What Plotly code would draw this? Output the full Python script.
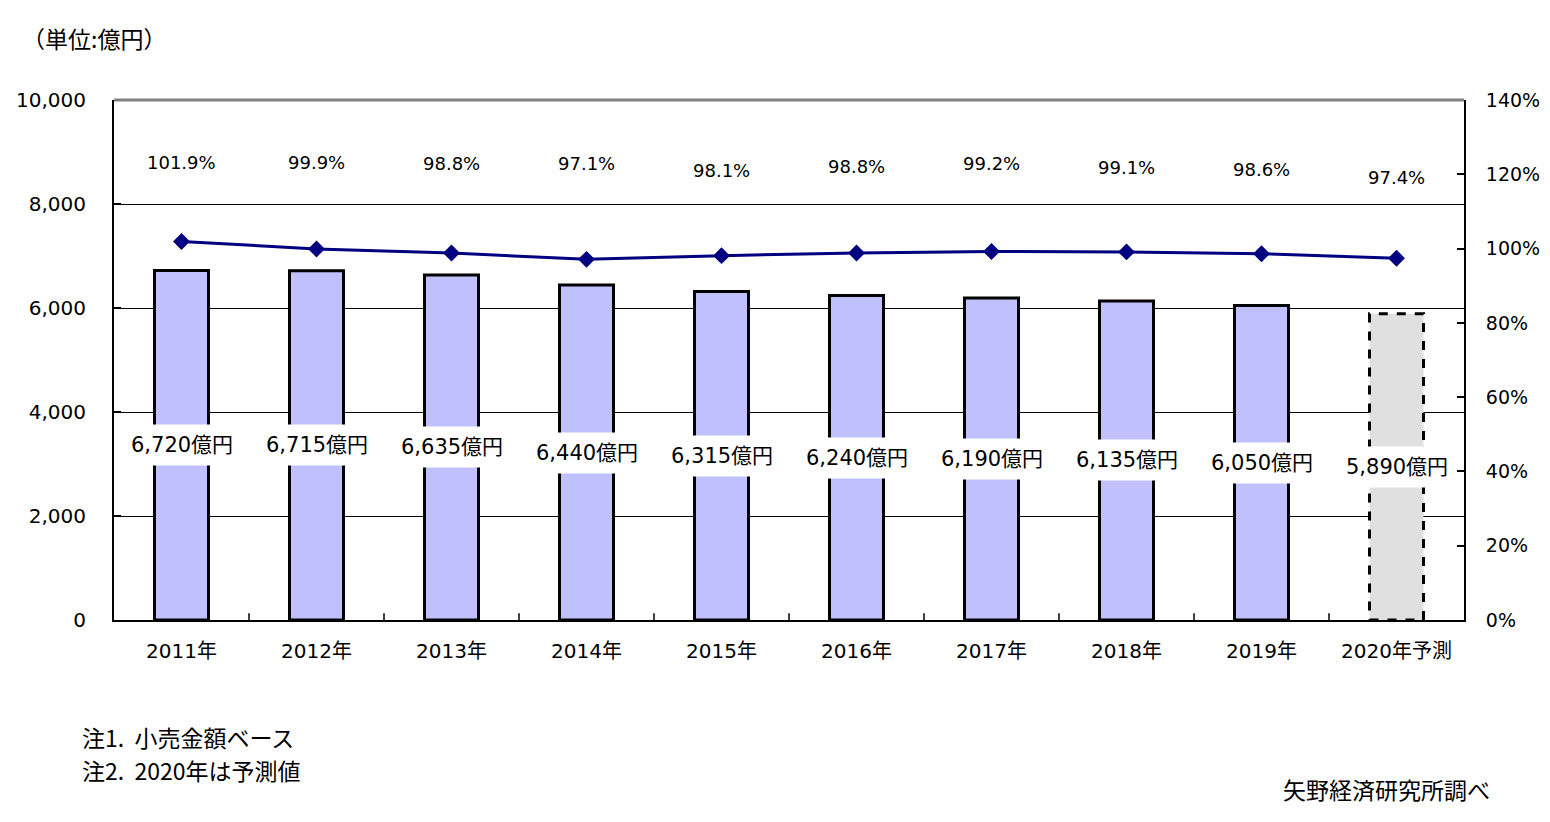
import plotly.graph_objects as go

years = ["2011年", "2012年", "2013年", "2014年", "2015年", "2016年", "2017年", "2018年", "2019年", "2020年予測"]
sales = [6720, 6715, 6635, 6440, 6315, 6240, 6190, 6135, 6050, 5890]
yoy = [101.9, 99.9, 98.8, 97.1, 98.1, 98.8, 99.2, 99.1, 98.6, 97.4]
# label heights for the percentage texts (right-axis units)
pct_label_pos = [123.3, 123.3, 123.0, 123.0, 120.9, 122.2, 122.8, 121.7, 121.4, 119.2]

FONT = "DejaVu Sans, Noto Sans CJK JP"
CJK = "Noto Sans CJK JP"
n = len(years)
idx = list(range(n))

# page offset of the browser body (8px default margin)
OFF = 8
L, T = 114 - OFF, 100 - OFF
PW, PH = 1350, 520
R = 1550 - L - PW
B = 822 - T - PH

fig = go.Figure()

fig.add_trace(go.Bar(
    x=idx[:-1], y=sales[:-1], width=0.4,
    marker=dict(color="#C0C0FF", line=dict(color="black", width=3)),
    hoverinfo="skip", showlegend=False,
))
fig.add_trace(go.Bar(
    x=idx[-1:], y=sales[-1:], width=0.4,
    marker=dict(color="#E0E0E0", line=dict(width=0)),
    hoverinfo="skip", showlegend=False,
))
fig.add_trace(go.Scatter(
    x=idx, y=yoy, yaxis="y2", mode="lines+markers",
    line=dict(color="#000080", width=3),
    marker=dict(symbol="diamond", size=13, color="#000080"),
    hoverinfo="skip", showlegend=False,
))

shapes = []
shapes.append(dict(type="rect", xref="x", yref="y",
                   x0=idx[-1] - 0.2, x1=idx[-1] + 0.2, y0=0, y1=sales[-1],
                   line=dict(color="black", width=3, dash="dash"), layer="above"))
shapes.append(dict(type="line", xref="paper", yref="paper", x0=0, x1=1, y0=1, y1=1,
                   line=dict(color="#808080", width=3), layer="above"))
for b in range(1, n):
    shapes.append(dict(type="line", xref="x", yref="paper", x0=b - 0.5, x1=b - 0.5, y0=0, y1=0.013,
                       line=dict(color="black", width=1.5), layer="above"))

annotations = []
for i, v in enumerate(sales):
    annotations.append(dict(
        x=i, y=v / 2, xref="x", yref="y",
        text=f"{v:,}億円", showarrow=False,
        font=dict(family=FONT, size=21, color="black"),
        bgcolor="white", borderpad=8,
    ))
for i, p in enumerate(yoy):
    annotations.append(dict(
        x=i, y=pct_label_pos[i], xref="x", yref="y2",
        text=f"{p:.1f}%", showarrow=False,
        font=dict(family=FONT, size=18, color="black"),
    ))

def fig_text(px, py, text, anchor="left", size=22):
    annotations.append(dict(
        x=(px - OFF - L) / PW, y=(822 - B - (py - OFF)) / PH, xref="paper", yref="paper",
        xanchor=anchor, yanchor="middle", text=text, showarrow=False,
        font=dict(family=CJK, size=size, color="black"),
    ))

fig_text(20, 38, "（単位:億円）", size=23)
fig_text(80, 737, "注1.  小売金額ベース", size=23)
fig_text(80, 770, "注2.  2020年は予測値", size=23)
fig_text(1492, 789, "矢野経済研究所調べ", anchor="right", size=23)

fig.update_layout(
    width=1550, height=822,
    margin=dict(l=L, r=R, t=T, b=B, autoexpand=False),
    paper_bgcolor="white", plot_bgcolor="white",
    font=dict(family=FONT, size=19, color="black"),
    bargap=0.6,
    xaxis=dict(
        type="linear", range=[-0.5, n - 0.5],
        tickmode="array", tickvals=idx, ticktext=years,
        showline=True, linecolor="black", linewidth=2,
        ticks="", showgrid=False, zeroline=False,
        tickfont=dict(size=20), ticklabelstandoff=12,
    ),
    yaxis=dict(
        range=[0, 10000], dtick=2000, tickformat=",",
        showline=True, linecolor="black", linewidth=2,
        ticks="inside", ticklen=7, tickcolor="black", tickwidth=2,
        showgrid=True, gridcolor="black", gridwidth=1, zeroline=False,
        tickfont=dict(size=20), ticklabelstandoff=22,
    ),
    yaxis2=dict(
        overlaying="y", side="right", range=[0, 140], dtick=20, ticksuffix="%",
        showline=True, linecolor="black", linewidth=2,
        ticks="inside", ticklen=7, tickcolor="black", tickwidth=2,
        showgrid=False, zeroline=False,
        tickfont=dict(size=19), ticklabelstandoff=16,
    ),
    shapes=shapes,
    annotations=annotations,
)

fig.write_html("out.html")
